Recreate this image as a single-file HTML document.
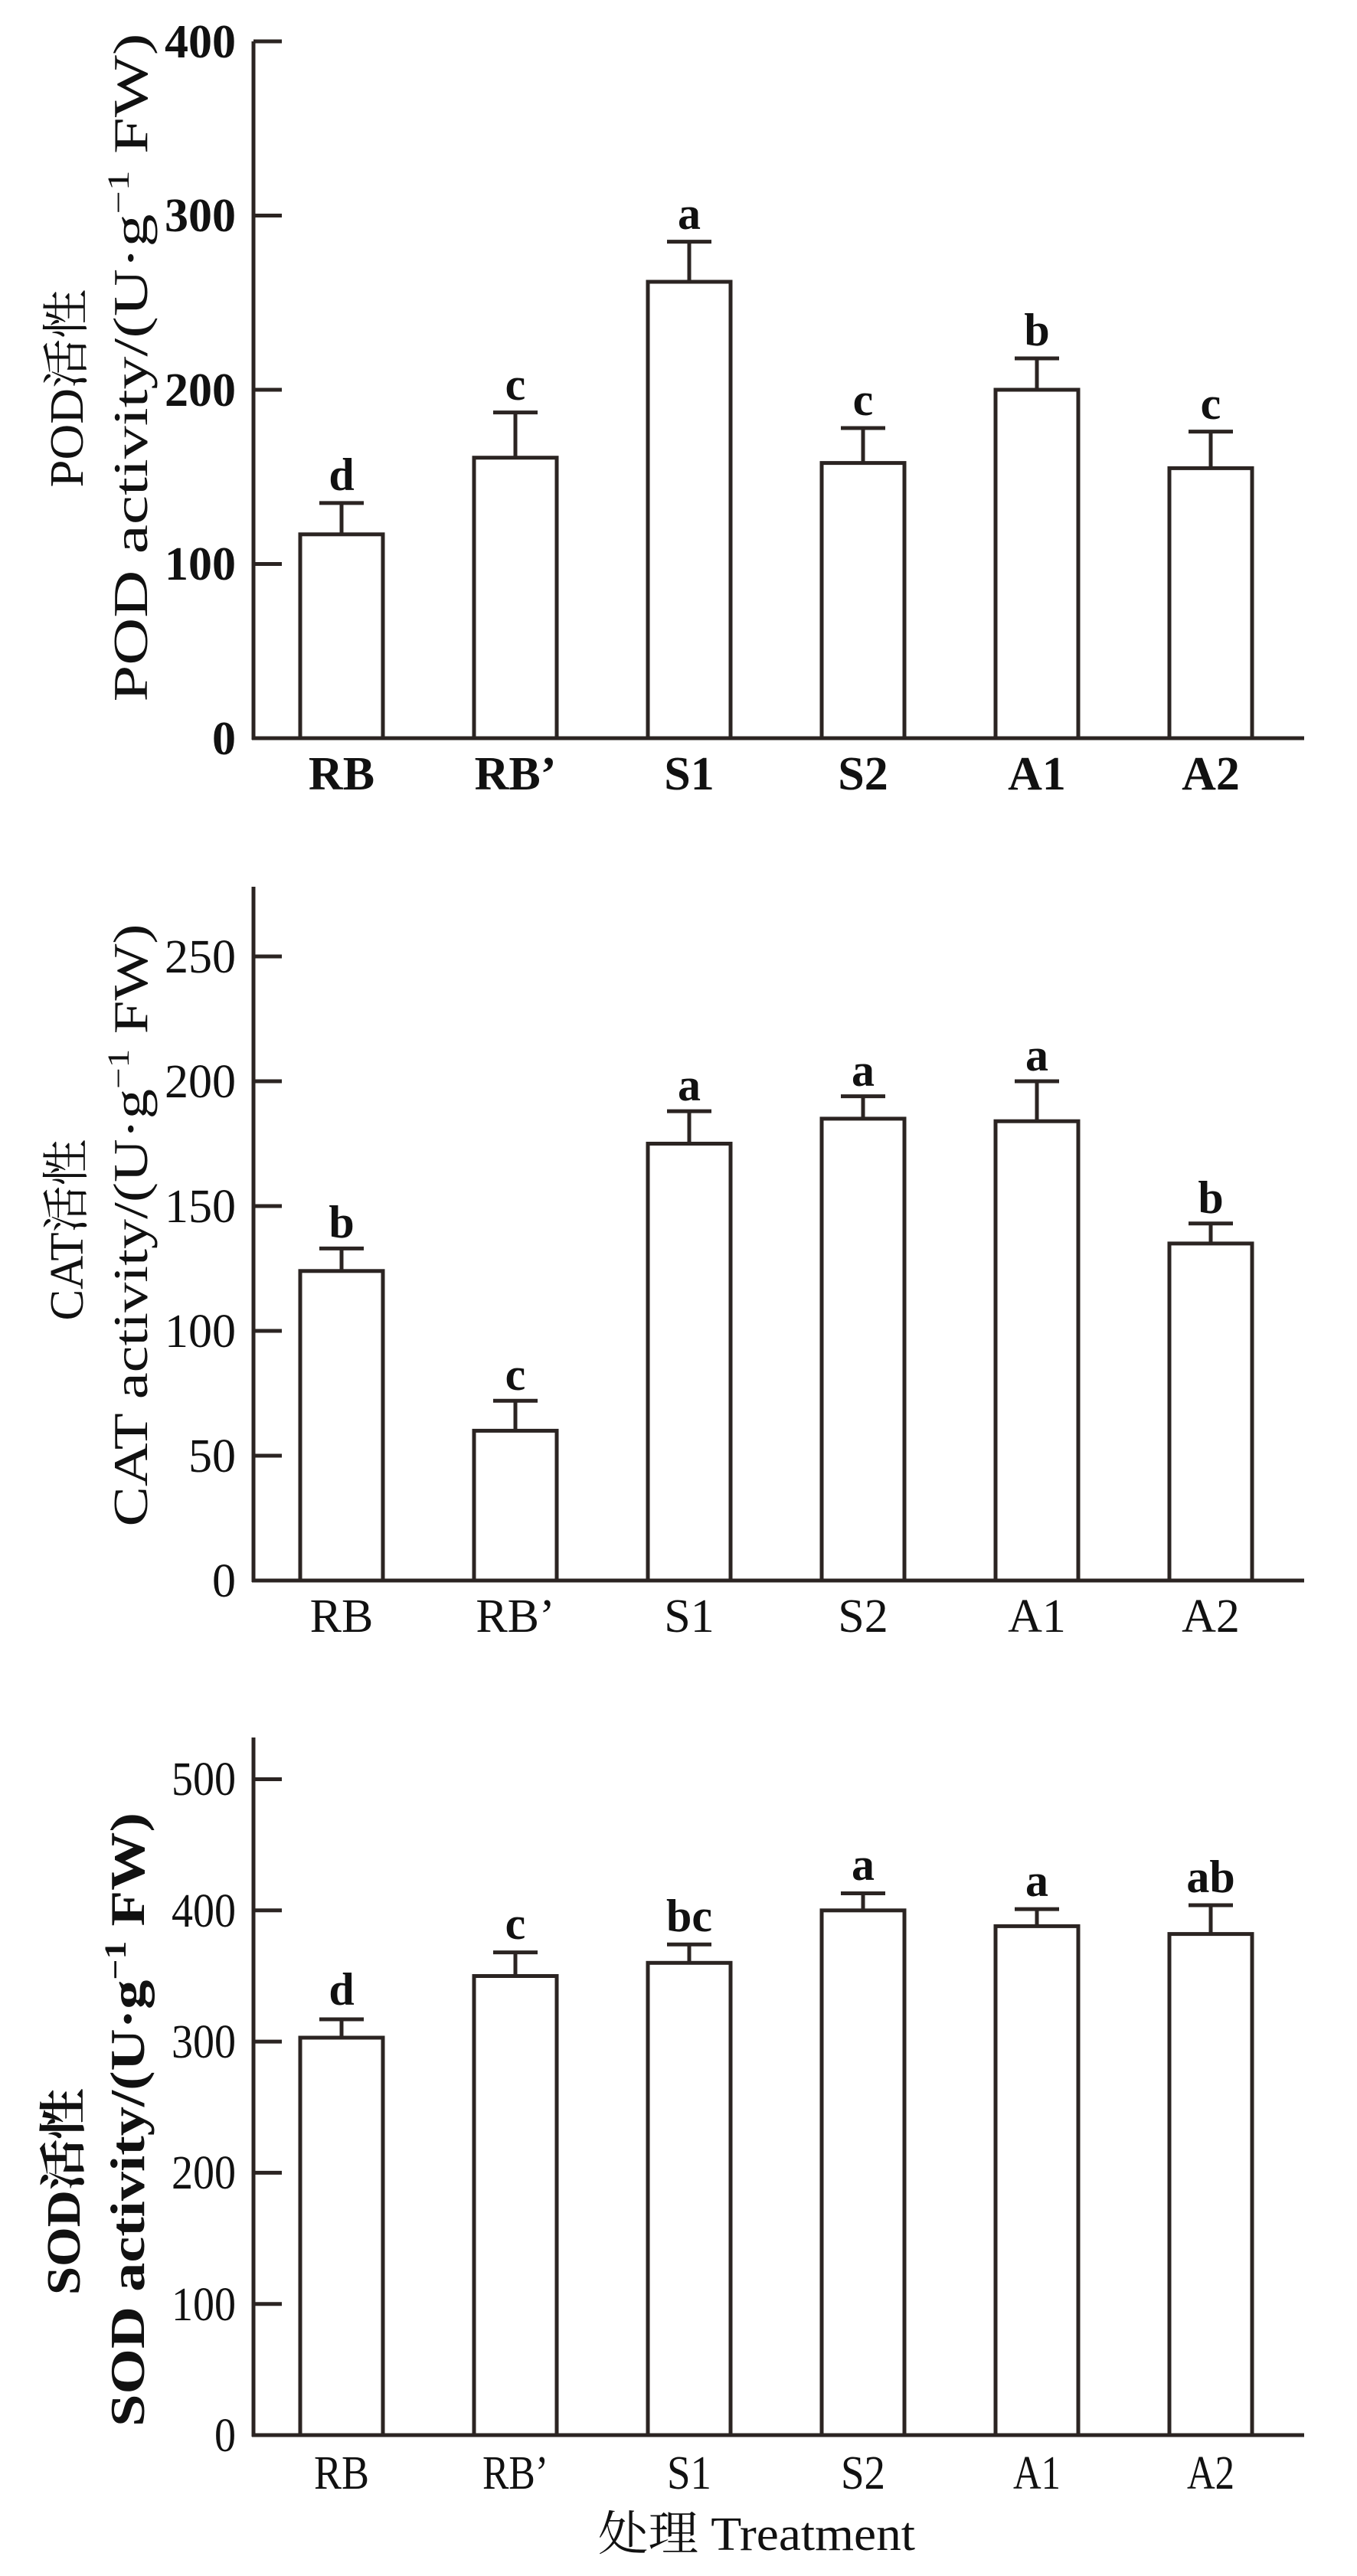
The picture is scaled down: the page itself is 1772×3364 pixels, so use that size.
<!DOCTYPE html>
<html><head><meta charset="utf-8"><style>
html,body{margin:0;padding:0;background:#fff}
svg{display:block}
text{font-family:"Liberation Serif","Noto Serif CJK SC","Noto Sans CJK SC",serif;fill:#111}
</style></head><body>
<svg width="1772" height="3364" viewBox="0 0 1772 3364" xmlns="http://www.w3.org/2000/svg">
<g stroke="#2b2422" stroke-width="5" fill="#fff">
<!-- Chart 1 -->
<line x1="331" y1="54" x2="331" y2="966"/>
<line x1="329" y1="964" x2="1703" y2="964"/>
<line x1="331" y1="736.5" x2="368" y2="736.5"/><line x1="331" y1="509" x2="368" y2="509"/><line x1="331" y1="281.5" x2="368" y2="281.5"/><line x1="331" y1="54" x2="368" y2="54"/>
<rect x="392" y="697.8" width="108" height="266.2"/><rect x="619" y="597.7" width="108" height="366.3"/><rect x="846" y="368" width="108" height="596"/><rect x="1073" y="604.6" width="108" height="359.4"/><rect x="1300" y="509" width="108" height="455"/><rect x="1527" y="611.4" width="108" height="352.6"/>
<path d="M446 697.8V656.9M417 656.9H475M673 597.7V538.6M644 538.6H702M900 368V315.6M871 315.6H929M1127 604.6V559M1098 559H1156M1354 509V468M1325 468H1383M1581 611.4V563.6M1552 563.6H1610"/>
<!-- Chart 2 -->
<line x1="331" y1="1158" x2="331" y2="2066"/>
<line x1="329" y1="2064" x2="1703" y2="2064"/>
<line x1="331" y1="1901" x2="368" y2="1901"/><line x1="331" y1="1738" x2="368" y2="1738"/><line x1="331" y1="1575" x2="368" y2="1575"/><line x1="331" y1="1412" x2="368" y2="1412"/><line x1="331" y1="1249" x2="368" y2="1249"/>
<rect x="392" y="1659.8" width="108" height="404.2"/><rect x="619" y="1868.4" width="108" height="195.6"/><rect x="846" y="1493.5" width="108" height="570.5"/><rect x="1073" y="1460.9" width="108" height="603.1"/><rect x="1300" y="1464.2" width="108" height="599.8"/><rect x="1527" y="1623.9" width="108" height="440.1"/>
<path d="M446 1659.8V1630.4M417 1630.4H475M673 1868.4V1829.3M644 1829.3H702M900 1493.5V1451.1M871 1451.1H929M1127 1460.9V1431.6M1098 1431.6H1156M1354 1464.2V1412M1325 1412H1383M1581 1623.9V1597.8M1552 1597.8H1610"/>
<!-- Chart 3 -->
<line x1="331" y1="2269" x2="331" y2="3182"/>
<line x1="329" y1="3180" x2="1703" y2="3180"/>
<line x1="331" y1="3008.7" x2="368" y2="3008.7"/><line x1="331" y1="2837.4" x2="368" y2="2837.4"/><line x1="331" y1="2666.1" x2="368" y2="2666.1"/><line x1="331" y1="2494.8" x2="368" y2="2494.8"/><line x1="331" y1="2323.5" x2="368" y2="2323.5"/>
<rect x="392" y="2661" width="108" height="519"/><rect x="619" y="2580.5" width="108" height="599.5"/><rect x="846" y="2563.3" width="108" height="616.7"/><rect x="1073" y="2494.8" width="108" height="685.2"/><rect x="1300" y="2515.4" width="108" height="664.6"/><rect x="1527" y="2525.6" width="108" height="654.4"/>
<path d="M446 2661V2637M417 2637H475M673 2580.5V2549.6M644 2549.6H702M900 2563.3V2539.3M871 2539.3H929M1127 2494.8V2472.5M1098 2472.5H1156M1354 2515.4V2493.1M1325 2493.1H1383M1581 2525.6V2488M1552 2488H1610"/>
</g>

<!-- Chart 1 text -->
<g font-size="62" font-weight="bold" text-anchor="end">
<text x="308" y="985">0</text><text x="308" y="757">100</text><text x="308" y="530">200</text><text x="308" y="302">300</text><text x="308" y="75">400</text>
</g>
<g font-size="62" font-weight="bold" text-anchor="middle">
<text x="446" y="1031">RB</text><text x="673" y="1031">RB’</text><text x="900" y="1031">S1</text><text x="1127" y="1031">S2</text><text x="1354" y="1031">A1</text><text x="1581" y="1031">A2</text>
</g>
<g font-size="60" font-weight="bold" text-anchor="middle">
<text x="446" y="640">d</text><text x="673" y="522">c</text><text x="900" y="299">a</text><text x="1127" y="542">c</text><text x="1354" y="451">b</text><text x="1581" y="547">c</text>
</g>
<text transform="translate(108,507) rotate(-90)" font-size="62" text-anchor="middle" textLength="259" lengthAdjust="spacingAndGlyphs">POD活性</text>
<text transform="translate(192,480) rotate(-90)" font-size="64" text-anchor="middle" textLength="873" lengthAdjust="spacingAndGlyphs">POD activity/(U·g<tspan font-size="40" dy="-24">−1</tspan><tspan dy="24"> FW)</tspan></text>

<!-- Chart 2 text -->
<g font-size="62" text-anchor="end">
<text x="308" y="2085">0</text><text x="308" y="1922">50</text><text x="308" y="1759">100</text><text x="308" y="1596">150</text><text x="308" y="1433">200</text><text x="308" y="1270">250</text>
</g>
<g font-size="62" text-anchor="middle">
<text x="446" y="2131">RB</text><text x="673" y="2131">RB’</text><text x="900" y="2131">S1</text><text x="1127" y="2131">S2</text><text x="1354" y="2131">A1</text><text x="1581" y="2131">A2</text>
</g>
<g font-size="60" font-weight="bold" text-anchor="middle">
<text x="446" y="1616">b</text><text x="673" y="1815">c</text><text x="900" y="1437">a</text><text x="1127" y="1418">a</text><text x="1354" y="1398">a</text><text x="1581" y="1584">b</text>
</g>
<text transform="translate(108,1606) rotate(-90)" font-size="62" text-anchor="middle" textLength="237" lengthAdjust="spacingAndGlyphs">CAT活性</text>
<text transform="translate(192,1600) rotate(-90)" font-size="64" text-anchor="middle" textLength="787" lengthAdjust="spacingAndGlyphs">CAT activity/(U·g<tspan font-size="40" dy="-24">−1</tspan><tspan dy="24"> FW)</tspan></text>

<!-- Chart 3 text -->
<g font-size="62" text-anchor="end">
<text x="308" y="3201" textLength="28" lengthAdjust="spacingAndGlyphs">0</text><text x="308" y="3030" textLength="84" lengthAdjust="spacingAndGlyphs">100</text><text x="308" y="2858" textLength="84" lengthAdjust="spacingAndGlyphs">200</text><text x="308" y="2687" textLength="84" lengthAdjust="spacingAndGlyphs">300</text><text x="308" y="2516" textLength="84" lengthAdjust="spacingAndGlyphs">400</text><text x="308" y="2344" textLength="84" lengthAdjust="spacingAndGlyphs">500</text>
</g>
<g font-size="62" text-anchor="middle">
<text x="446" y="3250" textLength="72" lengthAdjust="spacingAndGlyphs">RB</text><text x="673" y="3250" textLength="86" lengthAdjust="spacingAndGlyphs">RB’</text><text x="900" y="3250" textLength="58" lengthAdjust="spacingAndGlyphs">S1</text><text x="1127" y="3250" textLength="58" lengthAdjust="spacingAndGlyphs">S2</text><text x="1354" y="3250" textLength="62" lengthAdjust="spacingAndGlyphs">A1</text><text x="1581" y="3250" textLength="62" lengthAdjust="spacingAndGlyphs">A2</text>
</g>
<g font-size="60" font-weight="bold" text-anchor="middle">
<text x="446" y="2618">d</text><text x="673" y="2532">c</text><text x="900" y="2522">bc</text><text x="1127" y="2455">a</text><text x="1354" y="2476">a</text><text x="1581" y="2471">ab</text>
</g>
<text transform="translate(104,2862) rotate(-90)" font-size="62" font-weight="bold" text-anchor="middle" textLength="270" lengthAdjust="spacingAndGlyphs">SOD活性</text>
<text transform="translate(188,2768) rotate(-90)" font-size="64" font-weight="bold" text-anchor="middle" textLength="802" lengthAdjust="spacingAndGlyphs">SOD activity/(U·g<tspan font-size="40" dy="-24">−1</tspan><tspan dy="24"> FW)</tspan></text>
<text x="988" y="3330" font-size="62" text-anchor="middle" textLength="414" lengthAdjust="spacingAndGlyphs">处理 Treatment</text>
</svg>
</body></html>
